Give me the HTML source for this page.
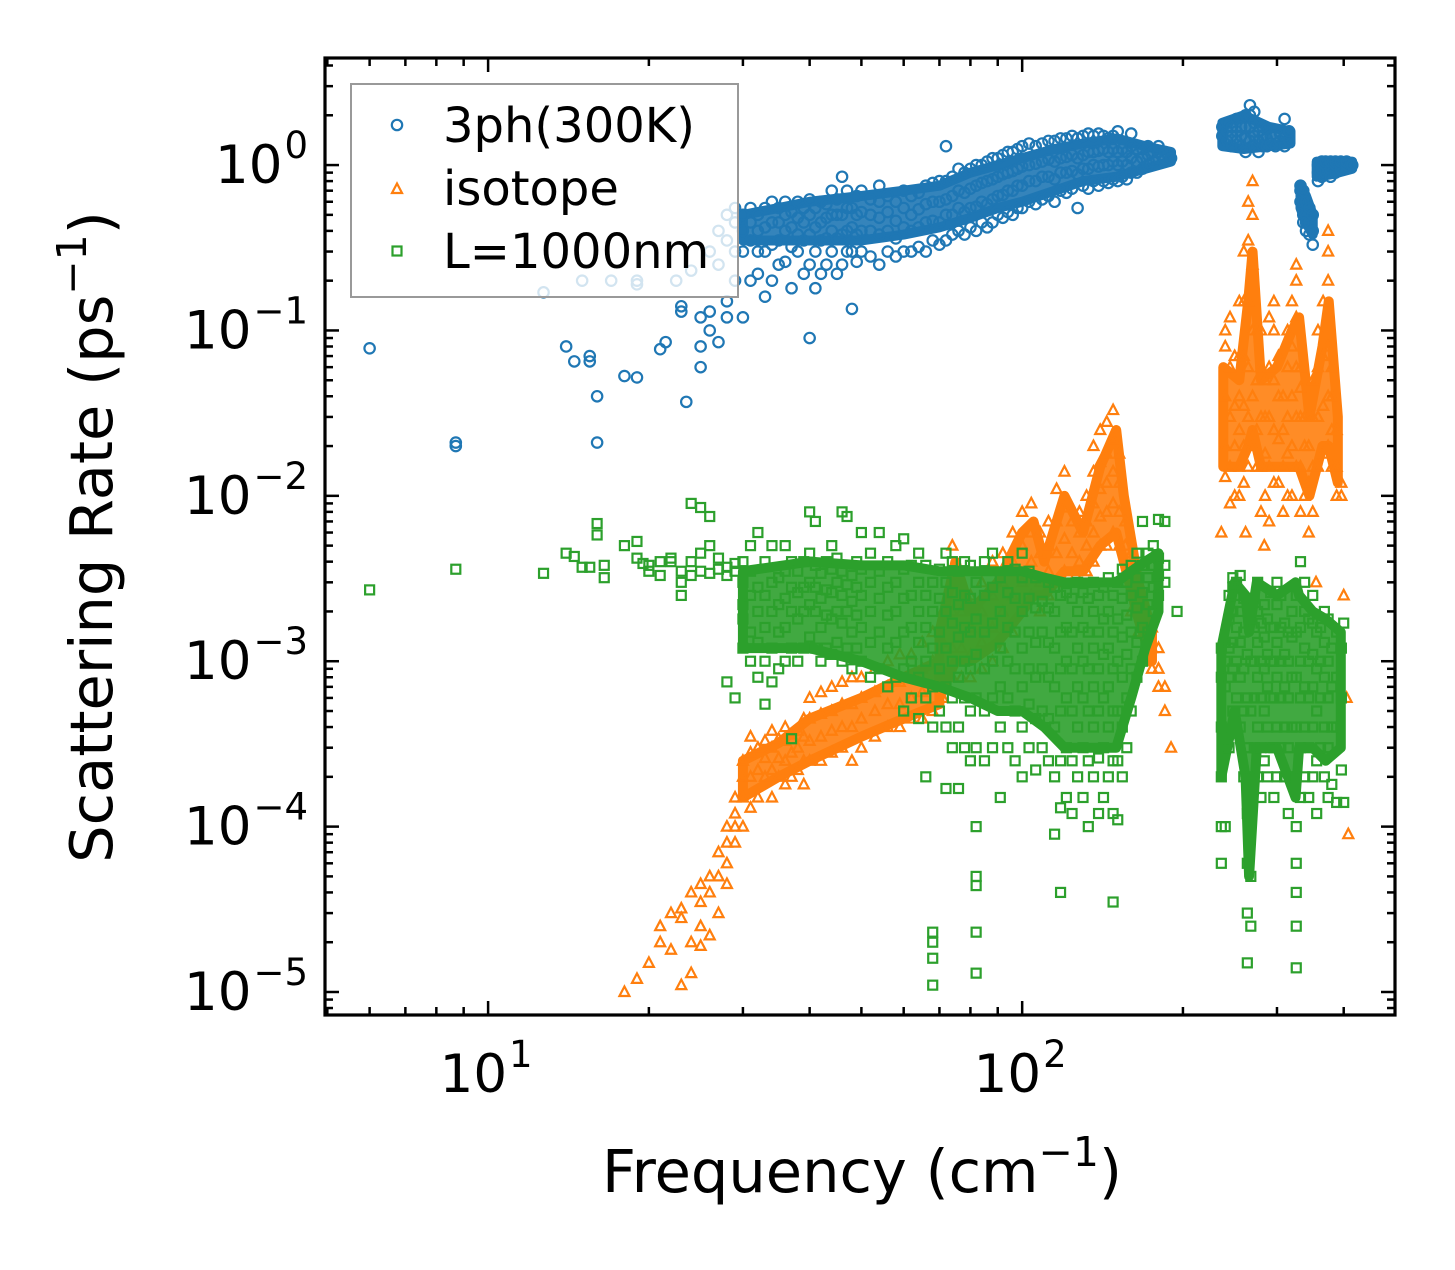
<!DOCTYPE html>
<html><head><meta charset="utf-8"><style>
html,body{margin:0;padding:0;background:#fff}
svg text{font-family:"DejaVu Sans","Liberation Sans",sans-serif}
</style></head><body>
<svg id="chart" width="1455" height="1265" viewBox="0 0 1455 1265" xmlns="http://www.w3.org/2000/svg">
<rect width="1455" height="1265" fill="#fff"/>
<g id="marks"></g>
<g id="axes"></g>
<g id="legend"></g>
</svg>
<script>
const xDomain=[4.95,499];
const yDomain=[7.26e-6,4.44];
const xTickLabels=[[10,'1'],[100,'2']];
const yTickLabels=[[1,'0'],[0.1,'−1'],[0.01,'−2'],[0.001,'−3'],[1e-4,'−4'],[1e-5,'−5']];
const seriesNames=['3ph(300K)','isotope','L=1000nm'];
const ph3Bands=[
 [[30,35,40,50,60,70,80,90,100,115,130,150,170,190],[0.35,0.35,0.35,0.35,0.38,0.42,0.48,0.55,0.6,0.7,0.8,0.85,0.95,1.05],[0.5,0.55,0.6,0.65,0.7,0.75,0.9,1.0,1.1,1.25,1.35,1.45,1.3,1.2]],
 [[237,260,290,318],[1.3,1.25,1.3,1.35],[1.8,2.0,1.7,1.6]],
 [[332,340,350],[0.55,0.45,0.38],[0.75,0.65,0.5]],
 [[356,380,415],[0.85,0.88,0.95],[1.05,1.05,1.05]]];
const isotopeBands=[
 [[30,35,40,50,60,70],[1.5e-4,2e-4,2.5e-4,3.5e-4,4.5e-4,5.5e-4],[2.5e-4,3.2e-4,4.5e-4,6e-4,8e-4,1e-3]],
 [[70,75,80,90,100,105,110,120,130,140,150,155,165,175],[6e-4,1e-3,1e-3,1.3e-3,2e-3,2.5e-3,2.5e-3,3.5e-3,3.5e-3,5e-3,6e-3,4e-3,1.8e-3,1e-3],[1.5e-3,4e-3,2e-3,3e-3,6e-3,7e-3,4e-3,1e-2,6e-3,1.5e-2,2.5e-2,1e-2,3e-3,1.5e-3]],
 [[238,255,265,270,280,300,320,330,345,365,375,390],[1.5e-2,1.5e-2,2e-2,2.5e-2,1.5e-2,1.5e-2,1.5e-2,1.5e-2,1e-2,2e-2,2e-2,1.2e-2],[6e-2,5e-2,0.15,0.3,5e-2,6e-2,0.1,0.12,3e-2,8e-2,0.15,3e-2]]];
const boundaryBands=[
 [[30,40,50,60,70,80,90,100,110,120,130,140,150,160,170,180],[1.2e-3,1.2e-3,1e-3,8e-4,7e-4,6e-4,5e-4,5e-4,4e-4,3e-4,3e-4,3e-4,3e-4,6e-4,1.2e-3,2e-3],[3.5e-3,4e-3,3.8e-3,3.8e-3,3.5e-3,3.5e-3,3.5e-3,3.5e-3,3.2e-3,3e-3,3e-3,3e-3,3e-3,3.5e-3,4e-3,4.5e-3]],
 [[236,250,262,266,275,300,325,330,350,370,395],[2e-4,5e-4,2e-4,5e-5,3e-4,3e-4,1.5e-4,3e-4,3e-4,2.5e-4,3e-4],[1.2e-3,3e-3,2.5e-3,1.5e-3,3e-3,2.5e-3,3e-3,2.5e-3,2e-3,1.8e-3,1.5e-3]]];
const ph3=[[6,[0.078]],[8.7,[0.021,0.02]],[12.7,[0.17]],[14,[0.08]],[14.5,[0.065]],[15,[0.2]],[15.5,[0.07,0.065]],[16,[0.04,0.021]],[17,[0.2]],[18,[0.053]],[19,[0.052,0.19,0.2]],[21,[0.077]],[21.5,[0.085]],[22.5,[0.2]],[23,[0.13,0.14]],[23.5,[0.037]],[24,[0.23]],[25,[0.08,0.06,0.12]],[26,[0.1,0.13,0.3]],[27,[0.25,0.085,0.4]],[28,[0.15,0.35,0.5,0.12]],[29,[0.3,0.2,0.45,0.55]],
[30,[0.12,0.3,0.4,0.5]],[31,[0.2,0.35,0.45,0.55]],[32,[0.22,0.3,0.4,0.5]],[33,[0.16,0.3,0.42,0.55]],[34,[0.2,0.33,0.45,0.6]],[35,[0.25,0.35,0.45,0.55]],[36,[0.26,0.4,0.5,0.6]],[37,[0.18,0.32,0.42,0.52]],[38,[0.3,0.38,0.48,0.6]],[39,[0.22,0.35,0.45,0.55]],[40,[0.09,0.25,0.38,0.5,0.62]],[41,[0.18,0.3,0.42,0.55]],[42,[0.22,0.35,0.45,0.6]],[43,[0.25,0.36,0.48,0.58]],[44,[0.3,0.4,0.5,0.7]],[45,[0.22,0.36,0.5,0.62]],[46,[0.25,0.38,0.5,0.85]],[47,[0.3,0.4,0.55,0.7]],[48,[0.135,0.3,0.42,0.55]],[49,[0.26,0.38,0.5,0.65]],[50,[0.3,0.4,0.52,0.7]],[52,[0.28,0.4,0.5,0.62]],[54,[0.25,0.38,0.48,0.6,0.75]],[56,[0.3,0.4,0.52,0.65]],[58,[0.28,0.36,0.46,0.6]],[60,[0.3,0.42,0.55,0.7]],[62,[0.3,0.4,0.5,0.65]],[64,[0.32,0.42,0.54,0.68]],[66,[0.3,0.45,0.58,0.75]],[68,[0.35,0.46,0.6,0.78]],[70,[0.33,0.45,0.6,0.8]],[72,[0.35,0.5,0.62,0.8,1.3]],[74,[0.38,0.5,0.65,0.85]],[76,[0.4,0.55,0.7,0.95]],[78,[0.38,0.52,0.68,0.9]],[80,[0.42,0.55,0.72,0.95]],[82,[0.4,0.56,0.75,1.0]],[84,[0.45,0.6,0.78,1.0]],[86,[0.42,0.58,0.8,1.05]],[88,[0.45,0.62,0.82,1.1]],[90,[0.5,0.65,0.85,1.1]],[92,[0.48,0.66,0.88,1.15]],[94,[0.52,0.7,0.9,1.2]],[96,[0.5,0.7,0.92,1.2]],[98,[0.55,0.75,0.95,1.25]],[100,[0.55,0.75,0.98,1.3]],[103,[0.6,0.8,1.0,1.35]],[106,[0.58,0.8,1.02,1.3]],[109,[0.62,0.85,1.05,1.35]],[112,[0.65,0.85,1.08,1.4]],[115,[0.6,0.82,1.05,1.4]],[118,[0.7,0.9,1.1,1.45]],[121,[0.68,0.9,1.12,1.45]],[124,[0.72,0.92,1.15,1.5]],[127,[0.55,0.88,1.1,1.45]],[130,[0.75,0.95,1.15,1.5]],[133,[0.72,0.95,1.2,1.55]],[136,[0.8,1.0,1.2,1.5]],[139,[0.75,0.98,1.22,1.55]],[142,[0.8,1.0,1.25,1.5]],[145,[0.78,1.0,1.2,1.45]],[148,[0.82,1.05,1.25,1.5]],[151,[0.8,1.0,1.2,1.6]],[154,[0.85,1.05,1.25]],[157,[0.82,1.0,1.2]],[160,[0.9,1.1,1.3,1.55]],[164,[0.9,1.05,1.25]],[168,[0.95,1.1,1.25]],[172,[1.0,1.15,1.3]],[176,[1.05,1.2]],[180,[1.1,1.2,1.3]],[185,[1.1,1.2]],[190,[1.1]],
[237,[1.5,1.7]],[242,[1.4,1.6,1.8]],[247,[1.3,1.5,1.7]],[252,[1.4,1.6,1.9]],[257,[1.3,1.5,1.7]],[262,[1.2,1.45,1.7,2.0]],[267,[1.4,1.7,2.0,2.3]],[272,[1.3,1.5,1.8,2.1]],[277,[1.2,1.4,1.6]],[282,[1.3,1.5,1.7]],[287,[1.3,1.45,1.65]],[292,[1.35,1.5]],[298,[1.3,1.5]],[304,[1.4,1.55]],[310,[1.3,1.5,1.9]],[316,[1.4,1.6]],
[332,[0.75,0.7,0.6]],[336,[0.7,0.6,0.5,0.45]],[340,[0.6,0.5,0.45,0.4]],[345,[0.55,0.45,0.38]],[350,[0.5,0.4,0.33]],[358,[0.8,0.9,1.0]],[364,[0.85,0.95,1.05]],[370,[0.9,1.0,1.05]],[378,[0.85,0.95,1.05]],[386,[0.9,1.0,1.05]],[395,[0.95,1.05]],[405,[1.0,1.05]],[415,[1.0]]];
const isotope=[[18,[1e-5]],[19,[1.2e-5]],[20,[1.5e-5]],[21,[2e-5,2.5e-5]],[22,[1.8e-5,3e-5]],[23,[1.1e-5,2.8e-5,3.2e-5]],[24,[1.3e-5,2e-5,4e-5]],[25,[1.9e-5,2.5e-5,3.5e-5,4.5e-5]],[26,[2.2e-5,4e-5,5e-5]],[27,[3e-5,5e-5,7e-5]],[28,[4.5e-5,8e-5,1e-4,6e-5]],[29,[8e-5,1.2e-4,1.5e-4,1e-4]],[30,[1e-4,1.5e-4,2e-4,2.5e-4]],[31,[1.3e-4,2e-4,2.8e-4,3.5e-4]],[32,[1.5e-4,2.2e-4,3e-4]],[33,[2e-4,2.6e-4,3.3e-4]],[34,[1.5e-4,2.2e-4,3e-4,3.8e-4]],[35,[2e-4,2.6e-4,3.4e-4]],[36,[1.8e-4,2.5e-4,3.3e-4,4e-4]],[37,[2e-4,2.8e-4,3.6e-4]],[38,[2.2e-4,3e-4,3.8e-4]],[39,[1.8e-4,2.5e-4,3.5e-4,4.5e-4]],[40,[2.5e-4,3.3e-4,4.5e-4,6e-4]],[42,[2.5e-4,3.5e-4,4.8e-4,6.5e-4]],[44,[2.8e-4,3.8e-4,5e-4,7e-4]],[46,[3e-4,4e-4,5.5e-4,7.5e-4]],[48,[2.5e-4,4e-4,5.5e-4,8e-4]],[50,[3e-4,4.5e-4,6e-4,8e-4]],[53,[3.5e-4,5e-4,6.5e-4,9e-4]],[56,[4e-4,5.5e-4,7e-4,1e-3]],[59,[4e-4,5.5e-4,7.5e-4,1.1e-3]],[62,[4.5e-4,6e-4,8e-4,1.1e-3]],[65,[4.5e-4,6.5e-4,9e-4,1.3e-3]],[68,[5e-4,7e-4,1e-3,1.5e-3]],[71,[6e-4,9e-4,1.3e-3,2e-3]],[74,[8e-4,1.2e-3,2e-3,3e-3,5e-3]],[77,[8e-4,1.2e-3,2e-3,3e-3]],[80,[8e-4,1.1e-3,1.6e-3,2.5e-3]],[84,[9e-4,1.3e-3,2e-3,3e-3]],[88,[1e-3,1.6e-3,2.5e-3,4e-3]],[92,[1.2e-3,2e-3,3e-3,4.5e-3]],[96,[1.5e-3,2.5e-3,4e-3,6e-3]],[100,[2e-3,3e-3,5e-3,8e-3]],[104,[2.5e-3,4e-3,6e-3,9e-3]],[108,[2e-3,3e-3,4.5e-3,6e-3]],[112,[2.5e-3,3.5e-3,5e-3,7e-3]],[116,[3e-3,4.5e-3,7e-3,1.1e-2]],[120,[3.5e-3,5.5e-3,8.5e-3,1.4e-2]],[124,[3e-3,4.5e-3,7e-3]],[128,[3e-3,4e-3,6e-3,8e-3]],[132,[3.5e-3,5e-3,7e-3,1e-2]],[136,[4e-3,6e-3,9e-3,1.4e-2,2e-2]],[140,[5e-3,7.5e-3,1.1e-2,1.6e-2,2.5e-2]],[144,[5e-3,8e-3,1.2e-2,1.8e-2,2.8e-2]],[148,[6e-3,9e-3,1.4e-2,2.2e-2,3.3e-2]],[152,[5e-3,8e-3,1.2e-2,1.8e-2]],[156,[3e-3,5e-3,7e-3]],[160,[2e-3,3e-3,4.5e-3]],[165,[1.5e-3,2.2e-3,3e-3]],[170,[1e-3,1.5e-3,2e-3]],[175,[9e-4,1.2e-3,1.6e-3]],[180,[7e-4,9e-4,1.2e-3]],[185,[5e-4,7e-4]],[190,[3e-4]],
[236,[6e-3]],[240,[1.3e-2,2e-2,4e-2,8e-2,0.1]],[245,[9e-3,1.5e-2,3e-2,6e-2,0.12]],[250,[1e-2,2e-2,3.5e-2,7e-2]],[255,[1e-2,1.5e-2,2.5e-2,4e-2,7e-2,0.15]],[260,[1.2e-2,2e-2,3.5e-2,7e-2,0.15,0.3]],[262,[6e-3]],[265,[1.5e-2,3e-2,6e-2,0.15,0.35,0.6]],[270,[2e-2,4e-2,0.1,0.25,0.5,0.8]],[275,[1.5e-2,2.5e-2,5e-2,0.1]],[280,[8e-3,1.5e-2,3e-2,6e-2,0.1]],[284,[5e-3]],[285,[1e-2,1.8e-2,3e-2,5e-2]],[290,[7e-3,1.5e-2,3e-2,6e-2,0.12]],[296,[1.2e-2,2.5e-2,5e-2,0.1,0.15]],[302,[1.2e-2,2.2e-2,4e-2,0.07]],[308,[8e-3,1.5e-2,2.5e-2,4e-2]],[314,[1e-2,1.8e-2,3e-2,6e-2,0.1]],[320,[1e-2,2e-2,4e-2,0.08,0.15]],[326,[1.5e-2,3e-2,6e-2,0.12,0.2,0.25]],[332,[8e-3,1.5e-2,3e-2,4.5e-2,6e-2]],[338,[1e-2,2e-2,3e-2]],[344,[6e-3,1.2e-2,2e-2]],[350,[8e-3,1.5e-2,3e-2,5e-2]],[355,[3e-3]],[358,[1.5e-2,3e-2,6e-2,0.1]],[366,[1.8e-2,3.5e-2,0.07,0.15]],[374,[2e-2,4e-2,0.08,0.2,0.3,0.4]],[380,[1.5e-2,2.5e-2,4e-2,0.06]],[388,[1e-2,1.5e-2,2.5e-2]],[396,[1e-2,1.2e-2]],[400,[2.5e-3]],[405,[6e-4]],[408,[9e-5]]];
const boundary=[[6,[2.7e-3]],[8.7,[3.6e-3]],[12.7,[3.4e-3]],[14,[4.5e-3]],[14.5,[4.3e-3]],[15,[3.7e-3]],[15.5,[3.7e-3]],[16,[5.8e-3,6.8e-3]],[16.5,[3.2e-3,3.8e-3]],[18,[5e-3]],[19,[4.2e-3,5.3e-3]],[19.5,[3.9e-3]],[20,[3.5e-3,3.8e-3]],[21,[3.3e-3,4e-3]],[22,[4e-3,4.2e-3]],[23,[2.5e-3,3e-3,3.5e-3]],[24,[9e-3,4e-3,3.3e-3]],[25,[8.5e-3,3.5e-3,4.5e-3]],[26,[7.5e-3,5e-3,3.4e-3]],[27,[3.6e-3,4.2e-3]],[28,[3.7e-3,3.3e-3,7.5e-4]],[29,[3.5e-3,3.9e-3,6e-4]],[30,[1.2e-3,1.8e-3,2.2e-3,3e-3,4e-3]],[31,[1e-3,1.5e-3,2.5e-3,3.5e-3,5e-3]],[32,[8e-4,1.3e-3,2e-3,2.8e-3,6e-3]],[33,[5.5e-4,1e-3,1.6e-3,2.5e-3,4e-3]],[34,[7.5e-4,1.2e-3,2e-3,3e-3,5e-3]],[35,[9e-4,1.5e-3,2.2e-3,3.2e-3]],[36,[1e-3,1.6e-3,2.4e-3,3.5e-3,5e-3]],[37,[3.4e-4,1.2e-3,2e-3,2.8e-3,4e-3]],[38,[1e-3,1.8e-3,2.6e-3,3.5e-3]],[39,[1.2e-3,2e-3,2.8e-3,4e-3]],[40,[8e-3,1.4e-3,2.2e-3,3e-3,4.5e-3]],[41,[7e-3,1.2e-3,2e-3,2.8e-3,3.8e-3]],[42,[1e-3,1.6e-3,2.4e-3,3.4e-3]],[43,[1.2e-3,1.9e-3,2.7e-3,4e-3]],[44,[5e-3,1.1e-3,1.8e-3,2.6e-3,3.6e-3]],[45,[1.3e-3,2e-3,3e-3,4.2e-3]],[46,[8e-3,1e-3,1.7e-3,2.5e-3,3.5e-3]],[47,[7.5e-3,1.2e-3,2e-3,2.9e-3]],[48,[9e-4,1.5e-3,2.3e-3,3.3e-3]],[49,[1.2e-3,1.9e-3,2.8e-3,4e-3]],[50,[6e-3,1e-3,1.6e-3,2.5e-3,3.6e-3]],[52,[8e-4,1.3e-3,2e-3,3e-3,4.5e-3]],[54,[6e-3,9e-4,1.5e-3,2.4e-3,3.5e-3]],[56,[7e-4,1.2e-3,1.9e-3,2.8e-3,4e-3]],[58,[8e-4,1.3e-3,2e-3,3e-3,5e-3]],[60,[5e-4,9e-4,1.5e-3,2.4e-3,3.6e-3,5.5e-3]],[62,[6e-4,1e-3,1.6e-3,2.5e-3,3.8e-3]],[64,[4.5e-4,8e-4,1.3e-3,2e-3,3e-3,4.5e-3]],[66,[2e-4,6e-4,1e-3,1.6e-3,2.5e-3,3.8e-3]],[68,[1.1e-5,1.6e-5,2e-5,2.3e-5,4e-4,7e-4,1.2e-3,2e-3,3e-3]],[70,[5e-4,9e-4,1.5e-3,2.4e-3,3.6e-3]],[72,[1.7e-4,4e-4,7e-4,1.2e-3,2e-3,3e-3,4.5e-3]],[74,[3e-4,6e-4,1e-3,1.7e-3,2.6e-3,4e-3]],[76,[1.7e-4,4e-4,8e-4,1.4e-3,2.2e-3,3.5e-3]],[78,[3e-4,6e-4,1e-3,1.6e-3,2.5e-3,4e-3]],[80,[2.5e-4,5e-4,9e-4,1.5e-3,2.4e-3,3.8e-3]],[82,[1.3e-5,2.3e-5,4.4e-5,5e-5,1e-4,3e-4,6e-4,1.1e-3,1.8e-3,3e-3]],[85,[2.5e-4,5e-4,9e-4,1.5e-3,2.5e-3,4e-3]],[88,[3e-4,6e-4,1e-3,1.7e-3,2.8e-3,4.5e-3]],[91,[1.5e-4,4e-4,7e-4,1.2e-3,2e-3,3.2e-3]],[94,[3e-4,6e-4,1e-3,1.6e-3,2.6e-3,4e-3]],[97,[2.5e-4,5e-4,9e-4,1.5e-3,2.4e-3,3.6e-3]],[100,[2e-4,4e-4,7e-4,1.2e-3,2e-3,3.2e-3,4.5e-3]],[103,[3e-4,5.5e-4,9e-4,1.5e-3,2.4e-3,3.5e-3]],[106,[2.2e-4,4.5e-4,8e-4,1.3e-3,2.1e-3,3.2e-3]],[109,[3e-4,5e-4,9e-4,1.5e-3,2.3e-3]],[112,[2.5e-4,4.5e-4,8e-4,1.3e-3,2.1e-3,3e-3]],[115,[9e-5,2e-4,4e-4,7e-4,1.2e-3,2e-3,2.8e-3]],[118,[4e-5,1.3e-4,2.5e-4,5e-4,9e-4,1.5e-3,2.5e-3]],[121,[1.5e-4,3e-4,6e-4,1e-3,1.6e-3,2.6e-3]],[124,[1.2e-4,2.5e-4,5e-4,9e-4,1.5e-3,2.4e-3]],[127,[2e-4,4e-4,7e-4,1.2e-3,2e-3,3e-3]],[130,[1.5e-4,3e-4,6e-4,1e-3,1.6e-3,2.6e-3]],[133,[1e-4,2.5e-4,5e-4,9e-4,1.5e-3,2.4e-3]],[136,[2e-4,4e-4,7e-4,1.2e-3,2e-3,3e-3]],[139,[1.2e-4,2.6e-4,5e-4,9e-4,1.5e-3,2.5e-3]],[142,[1.5e-4,3e-4,6e-4,1.1e-3,1.8e-3,2.8e-3]],[145,[2e-4,4e-4,7e-4,1.2e-3,2e-3,3.2e-3]],[148,[3.5e-5,1.2e-4,2.5e-4,5e-4,9e-4,1.5e-3,2.5e-3]],[151,[1.1e-4,2.5e-4,5e-4,1e-3,1.8e-3,3e-3]],[154,[2e-4,4e-4,8e-4,1.4e-3,2.4e-3,3.6e-3]],[157,[3e-4,6e-4,1.1e-3,1.9e-3,3e-3]],[160,[5e-4,9e-4,1.5e-3,2.5e-3,3.8e-3]],[164,[8e-4,1.3e-3,2.1e-3,3.2e-3,4.5e-3]],[168,[1e-3,1.6e-3,2.6e-3,3.8e-3,7e-3]],[172,[1.5e-3,2.2e-3,3.2e-3,4.5e-3]],[176,[2e-3,2.8e-3,3.8e-3,5e-3]],[180,[2.5e-3,3.3e-3,4.2e-3,7.2e-3]],[185,[3e-3,3.8e-3,7e-3]],[195,[2e-3]],
[236,[6e-5,1e-4,2e-4,4e-4,8e-4,1.2e-3]],[240,[1e-4,3e-4,7e-4,1e-3,1.3e-3]],[244,[3e-4,8e-4,1.2e-3,1.8e-3,2.5e-3]],[248,[5e-4,9e-4,1.3e-3,2e-3,2.8e-3,3.2e-3]],[252,[6e-4,1e-3,1.6e-3,2.5e-3,3e-3]],[256,[4e-4,8e-4,1.3e-3,2e-3,3.3e-3]],[260,[2e-4,5e-4,9e-4,1.5e-3,2.4e-3]],[264,[1.5e-5,3e-5,6e-5,1.2e-4,3e-4,6e-4,1.1e-3]],[268,[2.5e-5,5e-5,1e-4,2e-4,5e-4,1e-3,1.8e-3]],[272,[3e-4,6e-4,1e-3,1.6e-3,2.4e-3]],[276,[2e-4,4e-4,8e-4,1.3e-3,2e-3,3e-3]],[280,[1.5e-4,3e-4,6e-4,1e-3,1.7e-3]],[284,[2.5e-4,5e-4,9e-4,1.4e-3,2.2e-3]],[288,[2e-4,4e-4,7e-4,1.1e-3,1.8e-3]],[292,[3e-4,6e-4,1e-3,1.6e-3,2.6e-3]],[296,[1.5e-4,3e-4,6e-4,1e-3,1.6e-3]],[300,[2e-4,4e-4,8e-4,1.3e-3,2.2e-3,3e-3]],[305,[3e-4,6e-4,1e-3,1.6e-3,2.5e-3]],[310,[2e-4,4e-4,7e-4,1.1e-3,1.7e-3]],[315,[1.2e-4,3e-4,6e-4,1e-3,1.5e-3]],[320,[2e-4,4e-4,8e-4,1.4e-3,2e-3]],[326,[1.4e-5,2.5e-5,4e-5,6e-5,1e-4,2e-4,4e-4,8e-4,1.5e-3,2.5e-3]],[332,[1.5e-4,3e-4,6e-4,1e-3,1.6e-3,4e-3]],[338,[2e-4,4e-4,7e-4,1.2e-3,2e-3,3e-3]],[344,[1.5e-4,3e-4,6e-4,1e-3,1.8e-3]],[350,[2e-4,4e-4,7e-4,1.1e-3,1.7e-3,2.5e-3]],[356,[1.2e-4,2.5e-4,5e-4,9e-4,1.5e-3]],[362,[3e-4,6e-4,1e-3,1.6e-3]],[368,[2e-4,4e-4,8e-4,1.3e-3,2e-3]],[374,[1.5e-4,3e-4,6e-4,1e-3,1.8e-3]],[380,[1.8e-4,4e-4,7e-4,1.2e-3]],[388,[1.4e-4,4e-4,8e-4,1.5e-3]],[396,[2.2e-4,6e-4,1.2e-3]],[400,[1.4e-4,1.7e-3]]];

const NS='http://www.w3.org/2000/svg';
const PL=325,PR=1395,PT=58,PB=1015;
function sx(v){return PL+(Math.log10(v)-Math.log10(xDomain[0]))/(Math.log10(xDomain[1])-Math.log10(xDomain[0]))*(PR-PL);}
function sy(v){return PB-(Math.log10(v)-Math.log10(yDomain[0]))/(Math.log10(yDomain[1])-Math.log10(yDomain[0]))*(PB-PT);}
function mk(tag,attrs,parent){const e=document.createElementNS(NS,tag);for(const k in attrs)e.setAttribute(k,attrs[k]);parent.appendChild(e);return e;}
const marks=document.getElementById('marks'),axes=document.getElementById('axes'),legend=document.getElementById('legend');
const colors=['#1f77b4','#ff7f0e','#2ca02c'];
function marker(kind,cx,cy,color,parent){
  let e;
  if(kind===0){e=mk('circle',{cx:cx,cy:cy,r:5.2,fill:'none',stroke:color,'stroke-width':2.2},parent);}
  else if(kind===1){e=mk('polygon',{points:`${cx},${cy-5.5} ${cx-5},${cy+4} ${cx+5},${cy+4}`,fill:'none',stroke:color,'stroke-width':2.2},parent);}
  else {e=mk('rect',{x:cx-4.5,y:cy-4.5,width:9,height:9,fill:'none',stroke:color,'stroke-width':2.2},parent);}
  return e;
}
const names=['3ph','isotope','boundary'];
[[ph3,ph3Bands],[isotope,isotopeBands],[boundary,boundaryBands]].forEach(([series,bands],si)=>{
  const g=mk('g',{},marks);
  
  
  bands.forEach(([bx,lo,hi])=>{
    const pts=bx.map((x,i)=>sx(x)+','+sy(hi[i])).concat(bx.map((x,i)=>sx(x)+','+sy(lo[i])).reverse());
    const p=mk('polygon',{points:pts.join(' '),fill:colors[si],'fill-opacity':0.9,stroke:colors[si],'stroke-width':10,'stroke-linejoin':'round'},g);
    
    
  });
  series.forEach(([x,ys])=>{ys.forEach(y=>{
    const m=marker(si,sx(x),sy(y),colors[si],g);
    
    
  });});
});
const frame=mk('rect',{x:PL,y:PT,width:PR-PL,height:PB-PT,fill:'none',stroke:'#000','stroke-width':3.2},axes);


for(let d=0;d<=3;d++){for(let m=1;m<=9;m++){const v=m*Math.pow(10,d);if(v<xDomain[0]||v>xDomain[1])continue;
  const X=sx(v),L=m===1?14:8;
  mk('line',{x1:X,y1:PB,x2:X,y2:PB-L,stroke:'#000','stroke-width':2.5},axes);
  mk('line',{x1:X,y1:PT,x2:X,y2:PT+L,stroke:'#000','stroke-width':2.5},axes);}}
for(let d=-6;d<=1;d++){for(let m=1;m<=9;m++){const v=m*Math.pow(10,d);if(v<yDomain[0]||v>yDomain[1])continue;
  const Y=sy(v),L=m===1?14:8;
  mk('line',{x1:PL,y1:Y,x2:PL+L,y2:Y,stroke:'#000','stroke-width':2.5},axes);
  mk('line',{x1:PR,y1:Y,x2:PR-L,y2:Y,stroke:'#000','stroke-width':2.5},axes);}}
xTickLabels.forEach(([v,e])=>{
  const t=mk('text',{x:sx(v)-2,y:1092,'font-size':53,'text-anchor':'middle'},axes);
  
  
  t.textContent='10';
  const s=mk('tspan',{dy:-25,'font-size':37,dx:2},t);s.textContent=e;
});
yTickLabels.forEach(([v,e])=>{
  const t=mk('text',{x:308,y:sy(v)+18,'font-size':53,'text-anchor':'end'},axes);
  
  
  t.textContent='10';
  const s=mk('tspan',{dy:-25,'font-size':37,dx:2},t);s.textContent=e;
});
const xt=mk('text',{x:862,y:1192,'font-size':59,'text-anchor':'middle'},axes);


xt.innerHTML='Frequency (cm<tspan dy="-26" font-size="41">−1</tspan><tspan dy="26">)</tspan>';
const yt=mk('text',{x:0,y:0,'font-size':59,'text-anchor':'middle',transform:'translate(112,537) rotate(-90)'},axes);


yt.innerHTML='Scattering Rate (ps<tspan dy="-26" font-size="41">−1</tspan><tspan dy="26">)</tspan>';
const lb=mk('rect',{x:351,y:84,width:387,height:213,fill:'#fff','fill-opacity':0.8,stroke:'#999','stroke-width':2},legend);


seriesNames.forEach((n,i)=>{
  const yy=125+i*63;
  const m=marker(i,397,yy+(i===1?1:0),colors[i],legend);
  
  
  const t=mk('text',{x:443,y:yy+17,'font-size':48},legend);
  
  
  t.textContent=n;
});
</script>
</body></html>
